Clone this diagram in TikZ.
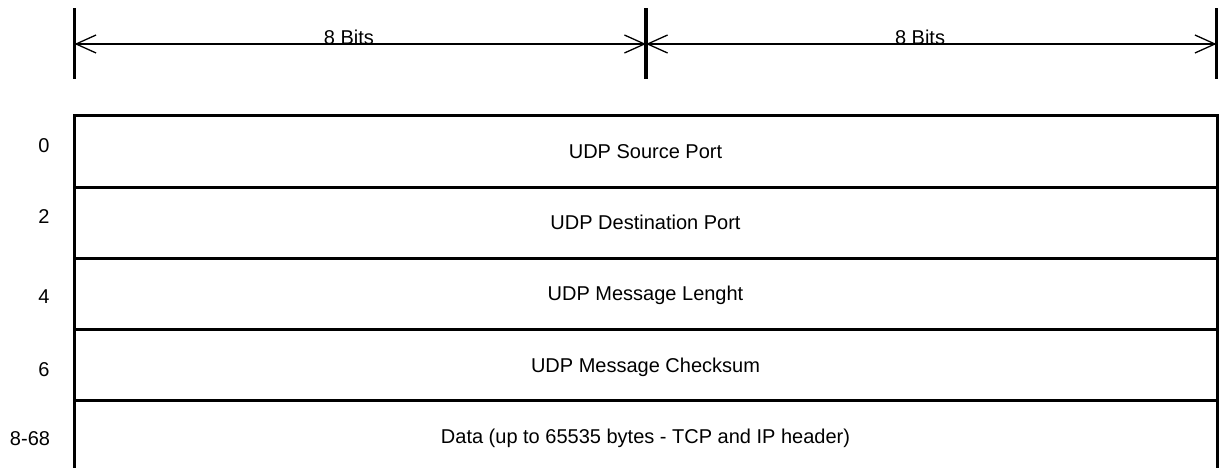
\documentclass[tikz,border=0pt]{standalone}
\usepackage{fontspec}
\setmainfont{Liberation Sans}
\usetikzlibrary{arrows.meta}
\begin{document}
\begin{tikzpicture}[x=1pt,y=-1pt,
  every node/.style={font=\fontsize{20}{24}\selectfont, inner sep=0pt, outer sep=0pt},
  field/.style={draw, line width=3pt, minimum width=1143pt, minimum height=71.1pt,
                anchor=north west, text height=14.3pt, text depth=0pt},
  openfield/.style={field, draw=none},
  offset/.style={text height=14.3pt, text depth=0pt},
  tickmark/.style={line width=3.5pt},
  dimline/.style={line width=1.3pt,
    {Straight Barb[length=20pt,width=18pt]}-{Straight Barb[length=20pt,width=18pt]}}]
\useasboundingbox (0,0) rectangle (1223,468);

% bit-width scale
\coordinate (t0) at (74.5,44);
\coordinate (t1) at (646,44);
\coordinate (t2) at (1216.5,44);
\foreach \t in {t0,t1,t2}
  \draw[tickmark] ([yshift=35.5pt]\t) -- ([yshift=-35.5pt]\t);
\draw[dimline] (t0) -- (t1);
\draw[dimline] (t1) -- (t2);
\node[anchor=base] (bitsA) at (349,45) {8 Bits};
\node[anchor=base] (bitsB) at (920,45) {8 Bits};

% header fields
\node[field] (f0) at (74,116)   {UDP Source Port};
\node[field] (f1) at (74,187.1) {UDP Destination Port};
\node[field] (f2) at (74,258.2) {UDP Message Lenght};
\node[field] (f3) at (74,329.3) {UDP Message Checksum};
\node[openfield] (f4) at (74,400.4) {Data (up to 65535 bytes - TCP and IP header)};
\draw[line width=3pt] (f4.south west) -- (f4.north west) -- (f4.north east) -- (f4.south east);

% byte offsets
\node[offset] (o0) at (44,145)   {0};
\node[offset] (o1) at (44,216.5) {2};
\node[offset] (o2) at (44,296.5) {4};
\node[offset] (o3) at (44,369)   {6};
\node[offset] (o4) at (30,438)   {8-68};
\end{tikzpicture}
\end{document}
